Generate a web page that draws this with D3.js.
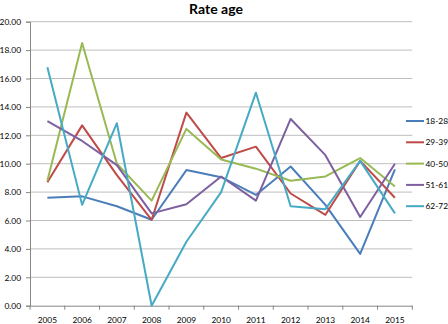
<!DOCTYPE html>
<html>
<head>
<meta charset="utf-8">
<script src="https://cdn.jsdelivr.net/npm/d3@7"></script>
<style>
  body { margin: 0; background: #fff; }
  text { font-family: Lato, "Open Sans", sans-serif; fill: #000; }
</style>
</head>
<body>
<div id="chart-area"></div>
<script>
// data
let years = ["2005", "2006", "2007", "2008", "2009", "2010", "2011", "2012", "2013", "2014", "2015"];
let seriesNames = ["18-28", "29-39", "40-50", "51-61", "62-72"];
let age1828 = [7.6, 7.7, 7.0, 6.05, 9.55, 9.05, 7.8, 9.8, 7.1, 3.65, 9.6];
let age2939 = [8.7, 12.7, 9.2, 6.05, 13.6, 10.4, 11.2, 7.9, 6.4, 10.2, 7.6];
let age4050 = [8.8, 18.5, 10.0, 7.4, 12.45, 10.3, 9.65, 8.8, 9.1, 10.4, 8.4];
let age5161 = [13.0, 11.6, 9.9, 6.5, 7.15, 9.1, 7.4, 13.15, 10.6, 6.25, 10.0];
let age6272 = [16.8, 7.1, 12.85, 0.0, 4.5, 8.0, 15.0, 7.0, 6.8, 10.2, 6.5];
let yTicks = [0, 2, 4, 6, 8, 10, 12, 14, 16, 18, 20];

let colors = ["#4a7ebb", "#be4b48", "#98b954", "#7d60a0", "#46aac5"];
let allSeries = [age1828, age2939, age4050, age5161, age6272];

let W = 448, H = 324;
let plot = { left: 30, right: 412.3, top: 21.7, bottom: 305.7 };
let fontSize = "8.4px";

let svg = d3.select("#chart-area").append("svg")
    .attr("width", W)
    .attr("height", H);

// Scales
let x = d3.scaleBand()
    .domain(years)
    .range([plot.left, plot.right]);

let y = d3.scaleLinear()
    .domain([0, 20])
    .range([plot.bottom, plot.top]);

// gridlines
svg.append("g")
    .selectAll("line")
    .data(yTicks.slice(1))
    .enter().append("line")
    .attr("x1", plot.left)
    .attr("x2", plot.right)
    .attr("y1", d => y(d))
    .attr("y2", d => y(d))
    .attr("stroke", "#bfbfbf")
    .attr("stroke-width", 1);

// y axis
let yAxis = d3.axisLeft(y)
    .tickValues(yTicks)
    .tickSize(4)
    .tickPadding(5)
    .tickFormat(d3.format(".2f"));

let yAxisGroup = svg.append("g")
    .attr("transform", "translate(" + plot.left + ",0)")
    .call(yAxis);
yAxisGroup.select(".domain").attr("stroke", "#868686");
yAxisGroup.selectAll(".tick line").attr("stroke", "#868686");
yAxisGroup.selectAll("text")
    .style("font-size", fontSize)
    .style("font-family", "Lato, 'Open Sans', sans-serif");

// x axis (labels centred, ticks between categories)
let xAxis = d3.axisBottom(x)
    .tickSizeInner(0)
    .tickSizeOuter(0)
    .tickPadding(11);

let xAxisGroup = svg.append("g")
    .attr("transform", "translate(0," + plot.bottom + ")")
    .call(xAxis);
xAxisGroup.select(".domain").attr("stroke", "#868686");
xAxisGroup.selectAll("text")
    .style("font-size", fontSize)
    .style("font-family", "Lato, 'Open Sans', sans-serif");

let boundaries = years.map(d => x(d)).concat([x.range()[1]]);
svg.append("g")
    .selectAll("line")
    .data(boundaries)
    .enter().append("line")
    .attr("x1", d => d)
    .attr("x2", d => d)
    .attr("y1", plot.bottom)
    .attr("y2", plot.bottom + 4)
    .attr("stroke", "#868686");

// lines
let line = d3.line()
    .x((d, i) => x(years[i]) + x.bandwidth() / 2)
    .y(d => y(d));

allSeries.forEach(function (values, i) {
    svg.append("path")
        .datum(values)
        .attr("fill", "none")
        .attr("stroke", colors[i])
        .attr("stroke-width", 2)
        .attr("stroke-linejoin", "round")
        .attr("d", line);
});

// legend
let legend = svg.append("g")
    .selectAll("g")
    .data(seriesNames)
    .enter().append("g")
    .attr("transform", (d, i) => "translate(406," + (121 + i * 21.3) + ")");

legend.append("line")
    .attr("x1", 0)
    .attr("x2", 18)
    .attr("stroke", (d, i) => colors[i])
    .attr("stroke-width", 2);

legend.append("text")
    .attr("x", 19.5)
    .attr("dy", "0.35em")
    .style("font-size", fontSize)
    .text(d => d);

// title
svg.append("text")
    .attr("x", 216)
    .attr("y", 13.5)
    .attr("text-anchor", "middle")
    .style("font-size", "14px")
    .style("font-weight", "bold")
    .text("Rate age");
</script>
</body>
</html>
